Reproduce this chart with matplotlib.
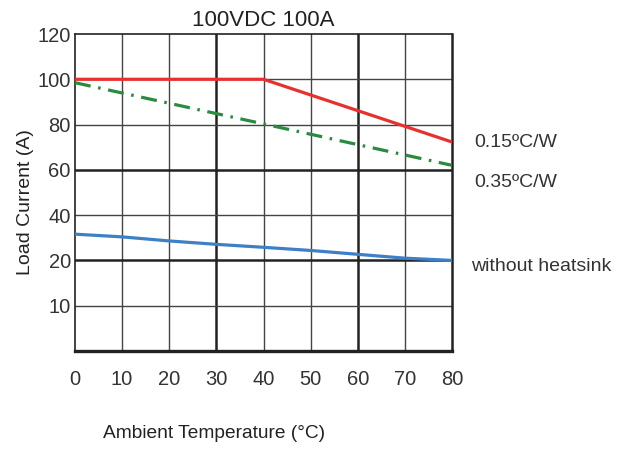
import numpy as np
import matplotlib
matplotlib.use("Agg")
import matplotlib.pyplot as plt

# data
temp = [0, 10, 20, 30, 40, 50, 60, 70, 80]
red_x = [0, 40, 80]
red_y = [100, 100, 72.3]          # 0.15 C/W
green_x = [0, 40, 80]
green_y = [98.5, 80.3, 62]        # 0.35 C/W
blue_y = [31.6, 30.4, 28.6, 27.1, 25.8, 24.4, 22.7, 21.0, 20.0]  # without heatsink

y_ticks = [10, 20, 40, 60, 80, 100, 120]
x_ticks = [0, 10, 20, 30, 40, 50, 60, 70, 80]

plt.rcParams['font.family'] = ['Liberation Sans', 'DejaVu Sans']


# the y axis is stretched below 20: 0-10-20 take one grid step each
def fwd(v):
    v = np.asarray(v, dtype=float)
    return np.where(v <= 20, v / 10.0, 2 + (v - 20) / 20.0)


def inv(u):
    u = np.asarray(u, dtype=float)
    return np.where(u <= 2, u * 10.0, 20 + (u - 2) * 20.0)


fig = plt.figure(figsize=(6.19, 4.49), dpi=100)
ax = fig.add_axes([75 / 619, 98 / 449, 377 / 619, 317 / 449])
ax.set_yscale('function', functions=(fwd, inv))
ax.set_xlim(0, 80)
ax.set_ylim(0, 120)

# grid, with heavier lines at 30/60 degC and 20/60 A
for x in x_ticks[1:-1]:
    heavy = x in (30, 60)
    ax.axvline(x, color='#222222' if heavy else '#444444',
               lw=1.8 if heavy else 1.0, zorder=1)
for y in y_ticks[:-1]:
    heavy = y in (20, 60)
    ax.axhline(y, color='#222222' if heavy else '#444444',
               lw=1.8 if heavy else 1.0, zorder=1)

ax.plot(red_x, red_y, color='#e8312f', lw=2.3, zorder=3)
ax.plot(green_x, green_y, color='#2a8a3e', lw=2.3, zorder=3,
        linestyle=(0, (5, 2.4, 0.8, 2.4)))
ax.plot(temp, blue_y, color='#3d80c6', lw=2.3, zorder=3)

for side, w in [('left', 1.2), ('top', 1.2), ('right', 1.8), ('bottom', 2.4)]:
    ax.spines[side].set_linewidth(w)
    ax.spines[side].set_color('#222222')

ax.set_xticks(x_ticks)
ax.set_yticks(y_ticks)
ax.set_yticklabels([str(v) for v in y_ticks])
ax.minorticks_off()
ax.tick_params(axis='both', length=0, labelsize=14.5, colors='#333333')
ax.tick_params(axis='x', pad=14)
ax.tick_params(axis='y', pad=3)

ax.set_title('100VDC 100A', fontsize=16, color='#222222', pad=6)
ax.set_xlabel('Ambient Temperature (°C)', fontsize=13.8, color='#222222')
ax.xaxis.set_label_coords(0.37, -0.233)
ax.set_ylabel('Load Current (A)', fontsize=14, color='#222222')
ax.yaxis.set_label_coords(-0.108, 0.47)

ax.text(1.058, 0.659, '0.15ºC/W', transform=ax.transAxes, fontsize=14,
        color='#333333', va='center', ha='left')
ax.text(1.058, 0.533, '0.35ºC/W', transform=ax.transAxes, fontsize=14,
        color='#333333', va='center', ha='left')
ax.text(1.050, 0.265, 'without heatsink', transform=ax.transAxes, fontsize=14,
        color='#333333', va='center', ha='left')

fig.savefig('out.png', dpi=100)
